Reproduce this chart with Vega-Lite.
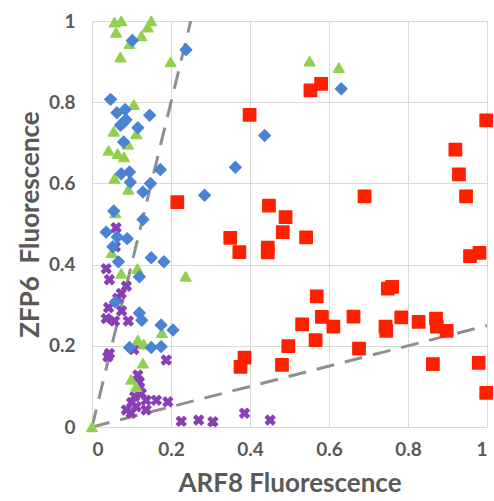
{
  "$schema": "https://vega.github.io/schema/vega-lite/v6.json",
  "width": 395,
  "height": 406,
  "autosize": "none",
  "padding": {"left": 92, "top": 21, "right": 7, "bottom": 74},
  "background": "white",
  "config": {
    "view": {"stroke": null},
    "axis": {"font": "Lato"}
  },
  "datasets": {
    "lines": [
      {"x": 0, "y": 0, "k": "a"}, {"x": 0.25, "y": 1, "k": "a"},
      {"x": 0, "y": 0, "k": "b"}, {"x": 1, "y": 0.25, "k": "b"}
    ],
    "pts": [
      {"s": "purple", "x": 0.061, "y": 0.491}, {"s": "purple", "x": 0.059, "y": 0.444}, {"s": "purple", "x": 0.036, "y": 0.39},
      {"s": "purple", "x": 0.044, "y": 0.363}, {"s": "purple", "x": 0.087, "y": 0.347}, {"s": "purple", "x": 0.074, "y": 0.329},
      {"s": "purple", "x": 0.065, "y": 0.317}, {"s": "purple", "x": 0.042, "y": 0.294}, {"s": "purple", "x": 0.075, "y": 0.286},
      {"s": "purple", "x": 0.036, "y": 0.267}, {"s": "purple", "x": 0.057, "y": 0.261}, {"s": "purple", "x": 0.092, "y": 0.261},
      {"s": "purple", "x": 0.044, "y": 0.181}, {"s": "purple", "x": 0.04, "y": 0.173}, {"s": "purple", "x": 0.106, "y": 0.191},
      {"s": "purple", "x": 0.188, "y": 0.165}, {"s": "purple", "x": 0.116, "y": 0.128}, {"s": "purple", "x": 0.12, "y": 0.111},
      {"s": "purple", "x": 0.108, "y": 0.075}, {"s": "purple", "x": 0.137, "y": 0.066}, {"s": "purple", "x": 0.163, "y": 0.066},
      {"s": "purple", "x": 0.192, "y": 0.062}, {"s": "purple", "x": 0.087, "y": 0.042}, {"s": "purple", "x": 0.112, "y": 0.05},
      {"s": "purple", "x": 0.137, "y": 0.042}, {"s": "purple", "x": 0.099, "y": 0.034}, {"s": "purple", "x": 0.125, "y": 0.083},
      {"s": "purple", "x": 0.1, "y": 0.06}, {"s": "purple", "x": 0.12, "y": 0.095},
      {"s": "purple", "x": 0.226, "y": 0.014}, {"s": "purple", "x": 0.27, "y": 0.017}, {"s": "purple", "x": 0.306, "y": 0.013},
      {"s": "purple", "x": 0.386, "y": 0.034}, {"s": "purple", "x": 0.451, "y": 0.017},
      {"s": "green", "x": 0.057, "y": 0.997}, {"s": "green", "x": 0.074, "y": 1.0}, {"s": "green", "x": 0.061, "y": 0.972},
      {"s": "green", "x": 0.15, "y": 1.0}, {"s": "green", "x": 0.141, "y": 0.985}, {"s": "green", "x": 0.125, "y": 0.963},
      {"s": "green", "x": 0.095, "y": 0.944}, {"s": "green", "x": 0.072, "y": 0.911}, {"s": "green", "x": 0.199, "y": 0.899},
      {"s": "green", "x": 0.106, "y": 0.794}, {"s": "green", "x": 0.055, "y": 0.728}, {"s": "green", "x": 0.112, "y": 0.722},
      {"s": "green", "x": 0.042, "y": 0.681}, {"s": "green", "x": 0.091, "y": 0.696}, {"s": "green", "x": 0.065, "y": 0.673},
      {"s": "green", "x": 0.081, "y": 0.665}, {"s": "green", "x": 0.057, "y": 0.612}, {"s": "green", "x": 0.092, "y": 0.585},
      {"s": "green", "x": 0.059, "y": 0.527}, {"s": "green", "x": 0.05, "y": 0.429}, {"s": "green", "x": 0.115, "y": 0.39},
      {"s": "green", "x": 0.074, "y": 0.378}, {"s": "green", "x": 0.237, "y": 0.371}, {"s": "green", "x": 0.177, "y": 0.232},
      {"s": "green", "x": 0.116, "y": 0.214}, {"s": "green", "x": 0.131, "y": 0.204}, {"s": "green", "x": 0.129, "y": 0.157},
      {"s": "green", "x": 0.099, "y": 0.117}, {"s": "green", "x": 0.112, "y": 0.099}, {"s": "green", "x": 0, "y": 0},
      {"s": "green", "x": 0.551, "y": 0.901}, {"s": "green", "x": 0.625, "y": 0.885},
      {"s": "blue", "x": 0.102, "y": 0.952}, {"s": "blue", "x": 0.238, "y": 0.929}, {"s": "blue", "x": 0.047, "y": 0.807},
      {"s": "blue", "x": 0.063, "y": 0.774}, {"s": "blue", "x": 0.084, "y": 0.782}, {"s": "blue", "x": 0.146, "y": 0.768},
      {"s": "blue", "x": 0.08, "y": 0.75}, {"s": "blue", "x": 0.072, "y": 0.743}, {"s": "blue", "x": 0.086, "y": 0.757},
      {"s": "blue", "x": 0.116, "y": 0.737}, {"s": "blue", "x": 0.08, "y": 0.702}, {"s": "blue", "x": 0.074, "y": 0.624},
      {"s": "blue", "x": 0.095, "y": 0.628}, {"s": "blue", "x": 0.173, "y": 0.634}, {"s": "blue", "x": 0.097, "y": 0.603},
      {"s": "blue", "x": 0.148, "y": 0.6}, {"s": "blue", "x": 0.129, "y": 0.579}, {"s": "blue", "x": 0.055, "y": 0.532},
      {"s": "blue", "x": 0.129, "y": 0.511}, {"s": "blue", "x": 0.036, "y": 0.48}, {"s": "blue", "x": 0.064, "y": 0.468},
      {"s": "blue", "x": 0.089, "y": 0.464}, {"s": "blue", "x": 0.053, "y": 0.444}, {"s": "blue", "x": 0.15, "y": 0.417},
      {"s": "blue", "x": 0.182, "y": 0.407}, {"s": "blue", "x": 0.067, "y": 0.407}, {"s": "blue", "x": 0.12, "y": 0.37},
      {"s": "blue", "x": 0.059, "y": 0.308}, {"s": "blue", "x": 0.12, "y": 0.281}, {"s": "blue", "x": 0.126, "y": 0.263},
      {"s": "blue", "x": 0.175, "y": 0.251}, {"s": "blue", "x": 0.205, "y": 0.239}, {"s": "blue", "x": 0.095, "y": 0.196},
      {"s": "blue", "x": 0.15, "y": 0.196}, {"s": "blue", "x": 0.175, "y": 0.198}, {"s": "blue", "x": 0.631, "y": 0.833},
      {"s": "blue", "x": 0.437, "y": 0.718}, {"s": "blue", "x": 0.363, "y": 0.64}, {"s": "blue", "x": 0.285, "y": 0.571},
      {"s": "red", "x": 0.216, "y": 0.554}, {"s": "red", "x": 0.553, "y": 0.829}, {"s": "red", "x": 0.58, "y": 0.845},
      {"s": "red", "x": 0.399, "y": 0.769}, {"s": "red", "x": 0.448, "y": 0.545}, {"s": "red", "x": 0.49, "y": 0.517},
      {"s": "red", "x": 0.483, "y": 0.48}, {"s": "red", "x": 0.35, "y": 0.466}, {"s": "red", "x": 0.542, "y": 0.467},
      {"s": "red", "x": 0.373, "y": 0.431}, {"s": "red", "x": 0.445, "y": 0.442}, {"s": "red", "x": 0.445, "y": 0.43},
      {"s": "red", "x": 0.569, "y": 0.322}, {"s": "red", "x": 0.582, "y": 0.271}, {"s": "red", "x": 0.532, "y": 0.253},
      {"s": "red", "x": 0.611, "y": 0.247}, {"s": "red", "x": 0.662, "y": 0.272}, {"s": "red", "x": 0.566, "y": 0.214},
      {"s": "red", "x": 0.497, "y": 0.199}, {"s": "red", "x": 0.386, "y": 0.171}, {"s": "red", "x": 0.376, "y": 0.148},
      {"s": "red", "x": 0.481, "y": 0.153}, {"s": "red", "x": 0.676, "y": 0.193}, {"s": "red", "x": 0.998, "y": 0.755},
      {"s": "red", "x": 0.92, "y": 0.683}, {"s": "red", "x": 0.929, "y": 0.622}, {"s": "red", "x": 0.69, "y": 0.568},
      {"s": "red", "x": 0.947, "y": 0.568}, {"s": "red", "x": 0.957, "y": 0.421}, {"s": "red", "x": 0.981, "y": 0.429},
      {"s": "red", "x": 0.749, "y": 0.341}, {"s": "red", "x": 0.76, "y": 0.345}, {"s": "red", "x": 0.783, "y": 0.27},
      {"s": "red", "x": 0.743, "y": 0.247}, {"s": "red", "x": 0.745, "y": 0.237}, {"s": "red", "x": 0.827, "y": 0.259},
      {"s": "red", "x": 0.871, "y": 0.267}, {"s": "red", "x": 0.873, "y": 0.247}, {"s": "red", "x": 0.898, "y": 0.237},
      {"s": "red", "x": 0.863, "y": 0.155}, {"s": "red", "x": 0.979, "y": 0.158}, {"s": "red", "x": 0.998, "y": 0.084}
    ]
  },
  "layer": [
    {
      "data": {"name": "lines"},
      "mark": {"type": "line", "color": "#8f8f8f", "strokeWidth": 3, "strokeDash": [18, 11], "clip": true},
      "encoding": {
        "x": {"field": "x", "type": "quantitative", "scale": {"domain": [0, 1], "nice": false},
          "axis": {"values": [0, 0.2, 0.4, 0.6, 0.8, 1], "format": "~g", "title": "ARF8 Fluorescence",
            "domain": false, "ticks": false, "gridColor": "#d9d9d9", "gridWidth": 1,
            "labelFont": "Lato", "labelFontSize": 19, "labelFontWeight": "bold", "labelColor": "#595959", "labelPadding": 13,
            "titleFont": "Lato", "titleFontSize": 26, "titleFontWeight": "bold", "titleColor": "#595959", "titlePadding": 11}},
        "y": {"field": "y", "type": "quantitative", "scale": {"domain": [0, 1], "nice": false},
          "axis": {"values": [0, 0.2, 0.4, 0.6, 0.8, 1], "format": "~g", "title": "ZFP6\u00a0 Fluorescence",
            "domain": false, "ticks": false, "gridColor": "#d9d9d9", "gridWidth": 1,
            "labelFont": "Lato", "labelFontSize": 19, "labelFontWeight": "bold", "labelColor": "#595959", "labelPadding": 17,
            "titleFont": "Lato", "titleFontSize": 26, "titleFontWeight": "bold", "titleColor": "#595959", "titlePadding": 5}},
        "detail": {"field": "k"}
      }
    },
    {
      "data": {"name": "pts"},
      "mark": {"type": "point", "filled": true, "opacity": 1, "strokeJoin": "round", "strokeWidth": 1.5},
      "encoding": {
        "x": {"field": "x", "type": "quantitative"},
        "y": {"field": "y", "type": "quantitative"},
        "color": {"field": "s", "type": "nominal", "legend": null,
          "scale": {"domain": ["purple", "green", "blue", "red"], "range": ["#8a3fb5", "#92d050", "#4a83d3", "#ff2000"]}},
        "stroke": {"field": "s", "type": "nominal", "legend": null,
          "scale": {"domain": ["purple", "green", "blue", "red"], "range": ["#8a3fb5", "#92d050", "#4a83d3", "#ff2000"]}},
        "shape": {"field": "s", "type": "nominal", "legend": null,
          "scale": {"domain": ["purple", "green", "blue", "red"],
            "range": ["M-1,-0.55L-0.55,-1L0,-0.45L0.55,-1L1,-0.55L0.45,0L1,0.55L0.55,1L0,0.45L-0.55,1L-1,0.55L-0.45,0Z", "triangle-up", "diamond", "square"]}},
        "size": {"field": "s", "type": "nominal", "legend": null,
          "scale": {"domain": ["purple", "green", "blue", "red"], "range": [90, 150, 110, 105]}}
      }
    }
  ]
}
